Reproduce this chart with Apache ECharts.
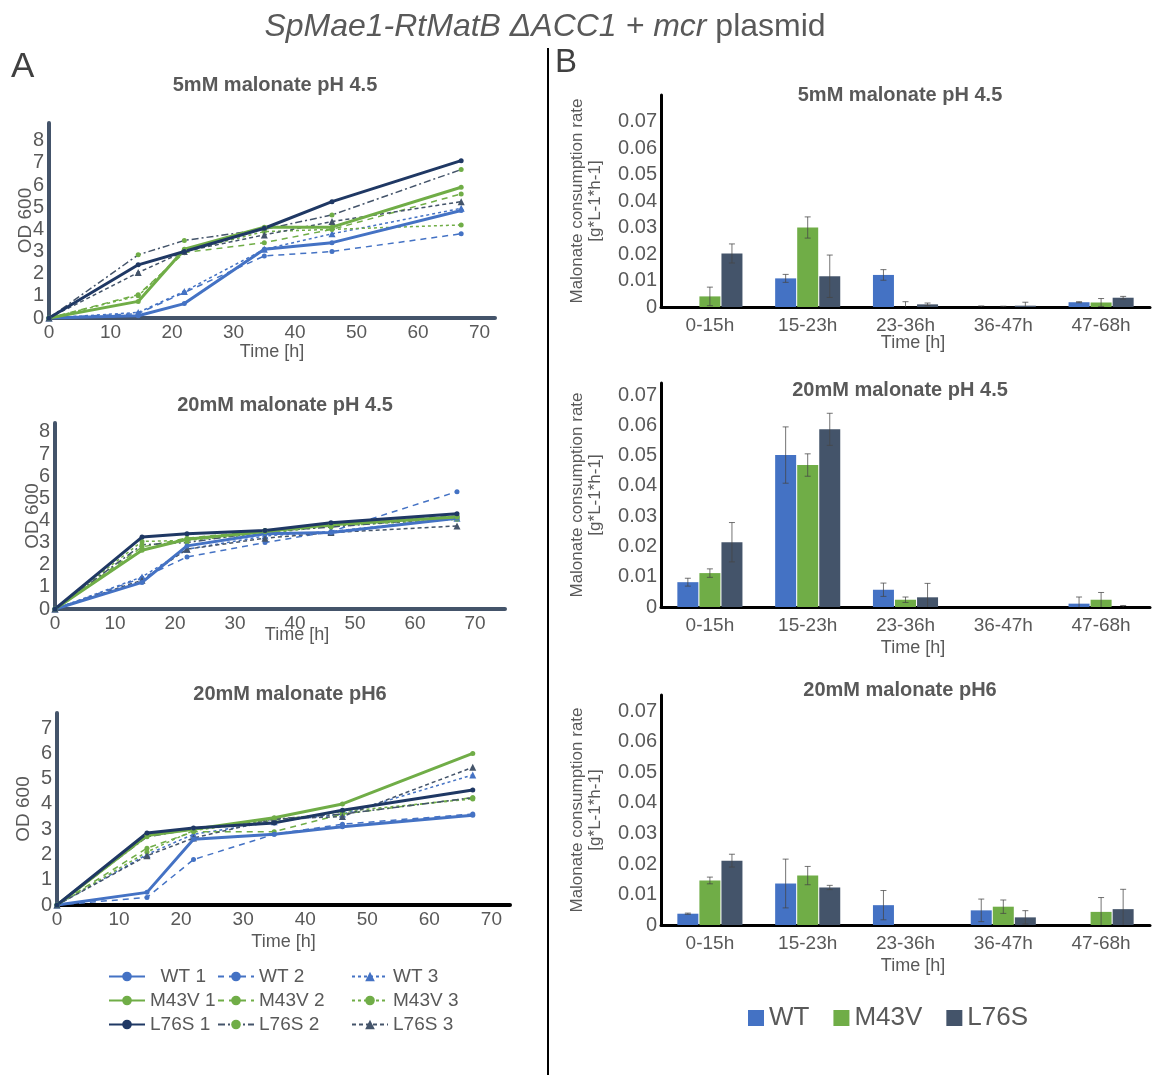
<!DOCTYPE html>
<html>
<head>
<meta charset="utf-8">
<script src="https://cdn.jsdelivr.net/npm/echarts@6/dist/echarts.min.js"></script>
<style>
  html, body { margin: 0; padding: 0; background: #fff; }
  #chart { width: 1155px; height: 1075px; }
</style>
</head>
<body>
<div id="chart"></div>
<script>
// growth curves (OD 600), sampling times in hours
const hours = [0, 14.5, 22, 35, 46, 67];
const strains = ['WT 1', 'WT 2', 'WT 3', 'M43V 1', 'M43V 2', 'M43V 3', 'L76S 1', 'L76S 2', 'L76S 3'];

const od5mMpH45 = [
  [0, 0.1, 0.65, 3.1, 3.4, 4.85],
  [0, 0.2, 1.15, 2.8, 3.0, 3.8],
  [0, 0.25, 1.2, 3.1, 3.8, 4.95],
  [0, 0.75, 3.1, 4.1, 4.1, 5.9],
  [0, 1.05, 2.95, 3.4, 4.0, 5.6],
  [0, 1.0, 3.0, 3.9, 4.0, 4.2],
  [0, 2.4, 3.0, 4.05, 5.25, 7.1],
  [0, 2.85, 3.5, 4.0, 4.65, 6.7],
  [0, 2.05, 3.0, 3.75, 4.35, 5.25]
];
const od20mMpH45 = [
  [0, 1.2, 2.85, 3.4, 3.45, 4.1],
  [0, 1.4, 2.35, 3.0, 3.5, 5.3],
  [0, 1.45, 2.7, 3.3, 3.5, 4.1],
  [0, 2.65, 3.15, 3.5, 3.8, 4.15],
  [0, 2.8, 3.2, 3.55, 3.85, 4.2],
  [0, 3.05, 3.1, 3.4, 3.75, 4.05],
  [0, 3.25, 3.4, 3.55, 3.9, 4.3],
  [0, 2.9, 3.0, 3.5, 3.7, 4.15],
  [0, 1.3, 2.7, 3.2, 3.45, 3.75]
];
const od20mMpH6 = [
  [0, 0.5, 2.6, 2.8, 3.1, 3.55],
  [0, 0.3, 1.8, 2.8, 3.2, 3.6],
  [0, 2.0, 2.8, 3.3, 3.6, 5.15],
  [0, 2.75, 3.0, 3.45, 4.0, 6.0],
  [0, 2.25, 2.9, 2.9, 3.6, 4.25],
  [0, 2.1, 2.95, 3.35, 3.7, 4.2],
  [0, 2.85, 3.05, 3.25, 3.75, 4.55],
  [0, 2.7, 3.0, 3.4, 3.6, 4.25],
  [0, 1.95, 2.65, 3.4, 3.5, 5.45]
];

// malonate consumption rates, rows = WT, M43V, L76S
const periods = ['0-15h', '15-23h', '23-36h', '36-47h', '47-68h'];
const groups = ['WT', 'M43V', 'L76S'];

const rate5mMpH45 = [
  [0, 0.0108, 0.0121, 0, 0.0018],
  [0.004, 0.030, 0, 0, 0.0017],
  [0.0202, 0.0116, 0.001, 0.0005, 0.0035]
];
const err5mMpH45 = [
  [0, 0.0015, 0.002, 0.0004, 0.0002],
  [0.0035, 0.004, 0.002, 0.0003, 0.0015],
  [0.0036, 0.008, 0.0005, 0.0013, 0.0005]
];
const rate20mMpH45 = [
  [0.0082, 0.0502, 0.0057, 0, 0.0011],
  [0.0112, 0.0469, 0.0024, 0, 0.0024],
  [0.0214, 0.0587, 0.0032, 0, 0]
];
const err20mMpH45 = [
  [0.0013, 0.0093, 0.0022, 0, 0.0022],
  [0.0014, 0.0037, 0.0009, 0, 0.0024],
  [0.0065, 0.0053, 0.0046, 0, 0.0005]
];
const rate20mMpH6 = [
  [0.0037, 0.0136, 0.0065, 0.0048, 0],
  [0.0146, 0.0162, 0, 0.006, 0.0043],
  [0.0211, 0.0123, 0, 0.0025, 0.0052]
];
const err20mMpH6 = [
  [0.0002, 0.008, 0.0048, 0.0037, 0],
  [0.0011, 0.003, 0, 0.0022, 0.0047],
  [0.0021, 0.0007, 0, 0.0022, 0.0065]
];

const BLUE = '#4472C4', GREEN = '#70AD47', NAVY = '#1F3864', SLATE = '#44546A', GREY = '#595959';
const FONT = 'Liberation Sans, Arial, sans-serif';

const lineLook = {
  'WT 1':   { color: BLUE,  width: 3,   type: 'solid',      symbol: 'circle',   mark: BLUE },
  'WT 2':   { color: BLUE,  width: 1.5, type: [6, 5],       symbol: 'circle',   mark: BLUE },
  'WT 3':   { color: BLUE,  width: 1.5, type: [3, 3],       symbol: 'triangle', mark: BLUE },
  'M43V 1': { color: GREEN, width: 3,   type: 'solid',      symbol: 'circle',   mark: GREEN },
  'M43V 2': { color: GREEN, width: 1.5, type: [6, 5],       symbol: 'circle',   mark: GREEN },
  'M43V 3': { color: GREEN, width: 1.5, type: [3, 3],       symbol: 'circle',   mark: GREEN },
  'L76S 1': { color: NAVY,  width: 3,   type: 'solid',      symbol: 'circle',   mark: NAVY },
  'L76S 2': { color: SLATE, width: 1.5, type: [7, 3, 2, 3], symbol: 'circle',   mark: GREEN },
  'L76S 3': { color: SLATE, width: 1.5, type: [4, 3],       symbol: 'triangle', mark: SLATE }
};
const barColors = [BLUE, GREEN, SLATE];

// panel layout (pixels)
const leftPanels = [
  { data: od5mMpH45, title: '5mM malonate pH 4.5', tx: 275, ty: 85,
    grid: { left: 49, top: 123, width: 446, height: 195 }, xMax: 72.5, yMax: 8.8, yTop: 8,
    xLine: SLATE, nameGap: 25, namePad: 0, yNameGap: 14 },
  { data: od20mMpH45, title: '20mM malonate pH 4.5', tx: 285, ty: 405,
    grid: { left: 55, top: 423, width: 450, height: 186 }, xMax: 75, yMax: 8.4, yTop: 8,
    xLine: SLATE, nameGap: 17, namePad: 34, yNameGap: 13 },
  { data: od20mMpH6, title: '20mM malonate pH6', tx: 290, ty: 694,
    grid: { left: 57, top: 713, width: 453, height: 192 }, xMax: 73, yMax: 7.6, yTop: 7,
    xLine: '#000', nameGap: 28, namePad: 0, yNameGap: 24 }
];
const rightPanels = [
  { rates: rate5mMpH45, errs: err5mMpH45, title: '5mM malonate pH 4.5', ty: 95,
    grid: { left: 661, top: 95, width: 489, height: 212 }, yMax: 0.08, nameGap: 27 },
  { rates: rate20mMpH45, errs: err20mMpH45, title: '20mM malonate pH 4.5', ty: 390,
    grid: { left: 661, top: 383, width: 489, height: 224 }, yMax: 0.074, nameGap: 32 },
  { rates: rate20mMpH6, errs: err20mMpH6, title: '20mM malonate pH6', ty: 690,
    grid: { left: 661, top: 695, width: 489, height: 230 }, yMax: 0.0754, nameGap: 32 }
];

const grids = [], xAxes = [], yAxes = [], series = [], graphics = [];
const labelStyle = { color: GREY, fontFamily: FONT };

leftPanels.forEach((p, gi) => {
  grids.push(Object.assign({ outerBoundsMode: 'none', containLabel: false }, p.grid));
  xAxes.push({
    type: 'value', gridIndex: gi, min: 0, max: p.xMax, interval: 10,
    splitLine: { show: false }, axisTick: { show: false },
    axisLine: { show: true, onZero: false, lineStyle: { color: p.xLine, width: 4 } },
    axisLabel: Object.assign({ fontSize: 19, margin: 5, formatter: v => (v % 10 === 0 ? String(v) : '') }, labelStyle),
    name: 'Time [h]', nameLocation: 'middle', nameGap: p.nameGap, nameMoveOverlap: false,
    nameTextStyle: Object.assign({ fontSize: 18, padding: [0, 0, 0, p.namePad] }, labelStyle)
  });
  yAxes.push({
    type: 'value', gridIndex: gi, min: 0, max: p.yMax, interval: 1,
    splitLine: { show: false }, axisTick: { show: false },
    axisLine: { show: true, onZero: false, lineStyle: { color: SLATE, width: 4 } },
    axisLabel: Object.assign({ fontSize: 20, margin: 5,
      formatter: v => (Number.isInteger(v) && v <= p.yTop ? String(v) : '') }, labelStyle),
    name: 'OD 600', nameLocation: 'middle', nameGap: p.yNameGap, nameMoveOverlap: false,
    nameTextStyle: Object.assign({ fontSize: 19 }, labelStyle)
  });
  strains.forEach((name, si) => {
    const s = lineLook[name];
    series.push({
      type: 'line', name, xAxisIndex: gi, yAxisIndex: gi,
      data: hours.map((h, i) => [h, p.data[si][i]]),
      symbol: s.symbol, symbolSize: s.symbol === 'triangle' ? 7 : 5,
      lineStyle: { color: s.color, width: s.width, type: s.type },
      itemStyle: { color: s.mark },
      z: s.width > 2 ? 4 : 3, animation: false, silent: true
    });
  });
  graphics.push({
    type: 'text', x: p.tx, y: p.ty,
    style: { text: p.title, font: 'bold 20px ' + FONT, fill: GREY,
      align: 'center', verticalAlign: 'middle', textAlign: 'center', textVerticalAlign: 'middle' }
  });
});

const BAR_W = 21, BAR_STEP = 22.05;

rightPanels.forEach((p, k) => {
  const gi = k + 3;
  grids.push(Object.assign({ outerBoundsMode: 'none', containLabel: false }, p.grid));
  xAxes.push({
    type: 'category', gridIndex: gi, data: periods,
    axisTick: { show: false },
    axisLine: { show: true, lineStyle: { color: '#000', width: 3 } },
    axisLabel: Object.assign({ fontSize: 19, margin: 9 }, labelStyle),
    name: 'Time [h]', nameLocation: 'middle', nameGap: p.nameGap, nameMoveOverlap: false,
    nameTextStyle: Object.assign({ fontSize: 18, padding: [0, 0, 0, 15] }, labelStyle)
  });
  yAxes.push({
    type: 'value', gridIndex: gi, min: 0, max: p.yMax, interval: 0.01,
    splitLine: { show: false }, axisTick: { show: false },
    axisLine: { show: true, lineStyle: { color: '#000', width: 3 } },
    axisLabel: Object.assign({ fontSize: 20, margin: 4, formatter: v => {
      const r = Math.round(v * 100);
      if (Math.abs(v * 100 - r) > 1e-6 || r > 7) return '';
      return r === 0 ? '0' : (r / 100).toFixed(2);
    } }, labelStyle),
    name: 'Malonate consumption rate\n[g*L-1*h-1]', nameLocation: 'middle', nameGap: 57,
    nameMoveOverlap: false,
    nameTextStyle: Object.assign({ fontSize: 17, lineHeight: 18 }, labelStyle)
  });
  groups.forEach((g, j) => {
    series.push({
      type: 'bar', name: g, xAxisIndex: gi, yAxisIndex: gi, data: p.rates[j],
      barWidth: BAR_W, barGap: '5%', itemStyle: { color: barColors[j] },
      animation: false, silent: true
    });
  });
  groups.forEach((g, j) => {
    series.push({
      type: 'custom', name: g + ' error', xAxisIndex: gi, yAxisIndex: gi, z: 6,
      data: periods.map((c, i) => [i, p.rates[j][i], p.errs[j][i]]),
      animation: false, silent: true,
      renderItem: (params, api) => {
        const i = api.value(0), v = api.value(1), e = api.value(2);
        if (!e) return { type: 'group', children: [] };
        const x = api.coord([i, v])[0] + (j - 1) * BAR_STEP;
        const lo = Math.max(0, v - e);
        const yTop = api.coord([i, v + e])[1];
        const yBot = api.coord([i, lo])[1];
        const st = { stroke: 'rgba(70,70,70,0.75)', lineWidth: 1 };
        const kids = [
          { type: 'line', shape: { x1: x, y1: yTop, x2: x, y2: yBot }, style: st },
          { type: 'line', shape: { x1: x - 3, y1: yTop, x2: x + 3, y2: yTop }, style: st }
        ];
        if (lo > 0) kids.push({ type: 'line', shape: { x1: x - 3, y1: yBot, x2: x + 3, y2: yBot }, style: st });
        return { type: 'group', children: kids };
      }
    });
  });
  graphics.push({
    type: 'text', x: 900, y: p.ty,
    style: { text: p.title, font: 'bold 20px ' + FONT, fill: GREY,
      align: 'center', verticalAlign: 'middle', textAlign: 'center', textVerticalAlign: 'middle' }
  });
});

// page title, panel letters, divider
graphics.push({
  type: 'text', x: 545, y: 27,
  style: {
    text: '{i|SpMae1-RtMatB ΔACC1 + }{i|mcr}{n| plasmid}',
    align: 'center', verticalAlign: 'middle', textAlign: 'center', textVerticalAlign: 'middle',
    rich: {
      i: { fontSize: 32, fontStyle: 'italic', fontFamily: FONT, fill: GREY, color: GREY },
      n: { fontSize: 32, fontFamily: FONT, fill: GREY, color: GREY }
    }
  }
});
graphics.push({ type: 'text', x: 11, y: 67, style: { text: 'A', font: '35px ' + FONT, fill: '#404040', verticalAlign: 'middle', textVerticalAlign: 'middle' } });
graphics.push({ type: 'text', x: 555, y: 63, style: { text: 'B', font: '33px ' + FONT, fill: '#404040', verticalAlign: 'middle', textVerticalAlign: 'middle' } });
graphics.push({ type: 'line', shape: { x1: 548, y1: 48, x2: 548, y2: 1075 }, style: { stroke: '#000', lineWidth: 2 } });

const lineLegend = (left, names) => ({
  orient: 'vertical', left, top: 962, itemWidth: 36, itemHeight: 12, itemGap: 5,
  data: names, selectedMode: false,
  formatter: n => (n === 'WT 1' ? '  ' + n : n),
  textStyle: { fontSize: 19, lineHeight: 19, color: GREY, fontFamily: FONT }
});

const chart = echarts.init(document.getElementById('chart'), null, { renderer: 'canvas' });
chart.setOption({
  backgroundColor: '#fff',
  animation: false,
  grid: grids,
  xAxis: xAxes,
  yAxis: yAxes,
  legend: [
    lineLegend(103, ['WT 1', 'M43V 1', 'L76S 1']),
    lineLegend(212, ['WT 2', 'M43V 2', 'L76S 2']),
    lineLegend(346, ['WT 3', 'M43V 3', 'L76S 3']),
    {
      orient: 'horizontal', left: 743, top: 1000, icon: 'rect', itemWidth: 16, itemHeight: 16,
      itemGap: 24, data: groups, selectedMode: false,
      textStyle: { fontSize: 26, color: GREY, fontFamily: FONT }
    }
  ],
  graphic: graphics,
  series
});
</script>
</body>
</html>
